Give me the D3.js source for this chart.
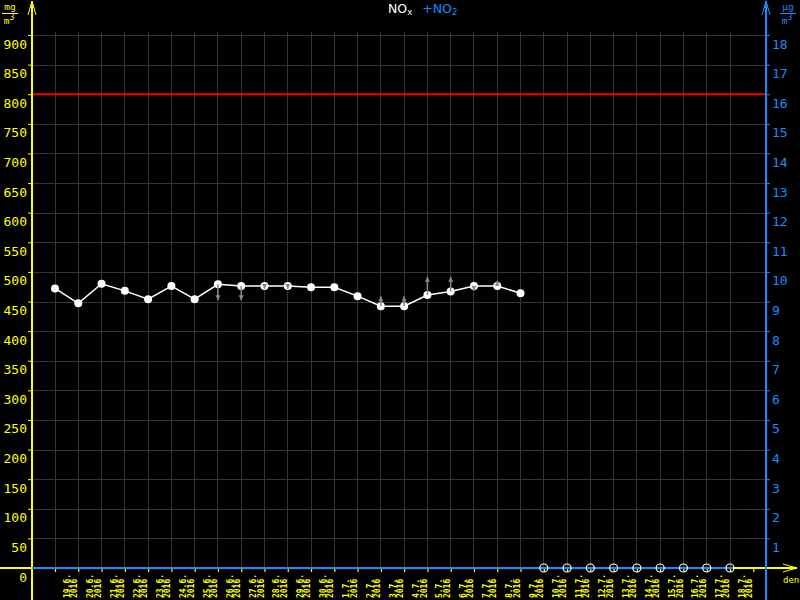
<!DOCTYPE html>
<html>
<head>
<meta charset="utf-8">
<script src="https://cdn.jsdelivr.net/npm/d3@7"></script>
<style>
  html, body { margin: 0; padding: 0; background: #000; }
  svg { display: block; }
</style>
</head>
<body>
<svg id="chart" width="800" height="600"></svg>
<script>
// ---------------- DATA ----------------
const dayLabels = ["19.6.","20.6.","21.6.","22.6.","23.6.","24.6.","25.6.","26.6.","27.6.","28.6.",
                   "29.6.","30.6.","1.7.","2.7.","3.7.","4.7.","5.7.","6.7.","7.7.","8.7.",
                   "9.7.","10.7.","11.7.","12.7.","13.7.","14.7.","15.7.","16.7.","17.7.","18.7."];
const yearLabel = "2016";
// NOx daily values (mg/m3, left axis); null = no data
const noxValues = [472, 447, 480, 468, 454, 476, 454, 479, 476, 476,
                   476, 474, 474, 459, 442, 442, 461, 467, 476, 476,
                   464, null, null, null, null, null, null, null, null, null];
// grey arrow end values (left-axis units); null = no arrow
const arrowEnds = [null, null, null, null, null, null, null, 452, 452, 471,
                   471, null, null, null, 459, 459, 492, 492, 468, 485,
                   null, null, null, null, null, null, null, null, null, null];
// NO2 daily values (ug/m3, right axis); null = not drawn
const no2Values = [null, null, null, null, null, null, null, null, null, null,
                   null, null, null, null, null, null, null, null, null, null,
                   null, 0, 0, 0, 0, 0, 0, 0, 0, 0];
const leftTicks = [0,50,100,150,200,250,300,350,400,450,500,550,600,650,700,750,800,850,900];
const rightTicks = [1,2,3,4,5,6,7,8,9,10,11,12,13,14,15,16,17,18];
const limitValue = 800;

// ---------------- LAYOUT ----------------
const W = 800, H = 600;
const axL = 32, axR = 766, yTop = 35, yBot = 568;
const yellow = "#ffff00", blue = "#1a8cff", grid = "#353535", grey = "#8a8a8a";
const mono = "'DejaVu Sans Mono', monospace";

const svg = d3.select("#chart");
svg.append("rect").attr("width", W).attr("height", H).attr("fill", "#000");

const x = d3.scaleLinear().domain([0, 29]).range([55, 730]);
const y = d3.scaleLinear().domain([0, 900]).range([yBot, yTop]);
const yR = d3.scaleLinear().domain([0, 18]).range([yBot, yTop]);
const dayIdx = d3.range(dayLabels.length);
const tickIdx = d3.range(dayLabels.length + 1);

// ---------------- GRID ----------------
const g = svg.append("g");
g.selectAll("line.v").data(dayIdx).join("line")
  .attr("x1", d => x(d)).attr("x2", d => x(d))
  .attr("y1", yTop - 3).attr("y2", yBot)
  .attr("stroke", grid).attr("stroke-width", 1).attr("shape-rendering", "crispEdges");
g.selectAll("line.h").data(leftTicks.filter(d => d > 0)).join("line")
  .attr("x1", axL).attr("x2", axR)
  .attr("y1", d => Math.round(y(d)) + 0.5).attr("y2", d => Math.round(y(d)) + 0.5)
  .attr("stroke", grid).attr("stroke-width", 1).attr("shape-rendering", "crispEdges");

// limit line
svg.append("line")
  .attr("x1", axL).attr("x2", axR)
  .attr("y1", y(limitValue)).attr("y2", y(limitValue))
  .attr("stroke", "#ff0000").attr("stroke-width", 2);

// ---------------- AXES ----------------
// x axis baseline (yellow), extended with arrow
svg.append("line").attr("x1", 0).attr("x2", W - 3)
  .attr("y1", y(0)).attr("y2", y(0))
  .attr("stroke", yellow).attr("stroke-width", 2);
svg.append("path")
  .attr("d", `M${W-17},${y(0)-4} L${W-3},${y(0)} L${W-17},${y(0)+4}`)
  .attr("fill", "none").attr("stroke", yellow).attr("stroke-width", 1);
svg.append("path")
  .attr("d", `M${W-10},${y(0)-2} L${W-3},${y(0)} L${W-10},${y(0)+2} Z`)
  .attr("fill", yellow);
svg.append("text").attr("x", W - 17).attr("y", y(0) + 15)
  .attr("fill", yellow).attr("font-family", mono).attr("font-size", 9).text("den");

// bottom ticks
const xAxis = d3.axisBottom(x).tickValues(tickIdx).tickSize(4).tickFormat("");
const gx = svg.append("g").attr("transform", `translate(0,${y(0)})`).call(xAxis);
gx.select(".domain").remove();
gx.selectAll("line").attr("stroke", yellow).attr("stroke-width", 1.2);

// date labels (rotated)
const lab = svg.append("g");
dayIdx.forEach(i => {
  const t = lab.append("g").attr("transform", `translate(${x(i)},${H - 2}) rotate(-90)`);
  [dayLabels[i], yearLabel].forEach((s, k) => {
    t.append("text").attr("x", 0).attr("y", 15 + k * 7.4)
      .attr("fill", yellow).attr("font-family", mono).attr("font-size", 9.2)
      .attr("font-weight", "bold")
      .attr("textLength", s.length * 4.8).attr("lengthAdjust", "spacingAndGlyphs")
      .text(s);
  });
});

// left axis
const gl = svg.append("g").attr("transform", `translate(${axL},0)`)
  .call(d3.axisLeft(y).tickValues(leftTicks).tickSize(4).tickPadding(1));
gl.select(".domain").remove();
gl.selectAll("line").attr("stroke", yellow);
gl.selectAll("text").attr("fill", yellow).attr("font-family", mono).attr("font-size", 13).attr("dy", "1em");
svg.append("line").attr("x1", axL).attr("x2", axL).attr("y1", 1).attr("y2", H)
  .attr("stroke", yellow).attr("stroke-width", 2);

// right axis
const gr = svg.append("g").attr("transform", `translate(${axR},0)`)
  .call(d3.axisRight(yR).tickValues(rightTicks).tickSize(4).tickPadding(2));
gr.select(".domain").remove();
gr.selectAll("line").attr("stroke", blue);
gr.selectAll("text").attr("fill", blue).attr("font-family", mono).attr("font-size", 13).attr("dy", "1em");
svg.append("line").attr("x1", axR).attr("x2", axR).attr("y1", 1).attr("y2", H)
  .attr("stroke", blue).attr("stroke-width", 2);

// axis top arrows
[[axL, yellow], [axR, blue]].forEach(([ax, c]) => {
  svg.append("path").attr("d", `M${ax-4},15 L${ax},1 L${ax+4},15`)
    .attr("fill", "none").attr("stroke", c).attr("stroke-width", 1);
  svg.append("path").attr("d", `M${ax-2},8 L${ax},1 L${ax+2},8 Z`).attr("fill", c);
});

// unit labels
function unit(cx, top, c) {
  svg.append("text").attr("x", cx).attr("y", 10).attr("text-anchor", "middle")
    .attr("fill", c).attr("font-family", mono).attr("font-size", 9.5).text(top);
  svg.append("line").attr("x1", cx - 8).attr("x2", cx + 8).attr("y1", 13.5).attr("y2", 13.5)
    .attr("stroke", c).attr("stroke-width", 1);
  const t = svg.append("text").attr("x", cx - 1).attr("y", 24).attr("text-anchor", "middle")
    .attr("fill", c).attr("font-family", mono).attr("font-size", 9.5);
  t.append("tspan").text("m");
  t.append("tspan").attr("dy", -4).attr("font-size", 8).text("3");
}
unit(10, "mg", yellow);
unit(788, "µg", blue);

// title
const title = svg.append("text").attr("x", 388).attr("y", 13)
  .attr("font-family", "'DejaVu Sans', sans-serif").attr("font-size", 12.5);
title.append("tspan").attr("fill", "#ffffff").text("NO");
title.append("tspan").attr("fill", "#ffffff").attr("font-size", 8.5).attr("dy", 2).text("x");
title.append("tspan").attr("fill", blue).attr("dx", 10).attr("dy", -2).text("+NO");
title.append("tspan").attr("fill", blue).attr("font-size", 8.5).attr("dy", 2).text("2");

// ---------------- SERIES ----------------
// NO2 zero line (blue)
svg.append("line").attr("x1", axL).attr("x2", x(29) + 3)
  .attr("y1", yR(0)).attr("y2", yR(0)).attr("stroke", blue).attr("stroke-width", 2);

// NOx line
const noxData = noxValues.map((v, i) => ({ i, v })).filter(d => d.v != null);
svg.append("path").datum(noxData)
  .attr("d", d3.line().x(d => x(d.i)).y(d => y(d.v)))
  .attr("fill", "none").attr("stroke", "#ffffff").attr("stroke-width", 1.5);
svg.selectAll("circle.nox").data(noxData).join("circle")
  .attr("cx", d => x(d.i)).attr("cy", d => y(d.v)).attr("r", 4)
  .attr("fill", "#ffffff");

// grey arrows
const arr = noxValues.map((v, i) => ({ i, v, e: arrowEnds[i] })).filter(d => d.e != null && d.v != null);
arr.forEach(d => {
  const cx = x(d.i), y0 = y(d.v), y1 = y(d.e);
  const dir = y1 > y0 ? 1 : -1;
  svg.append("line").attr("x1", cx).attr("x2", cx).attr("y1", y0).attr("y2", y1)
    .attr("stroke", grey).attr("stroke-width", 1.5);
  svg.append("path")
    .attr("d", `M${cx},${y1} L${cx-2.5},${y1 - dir*5} L${cx+2.5},${y1 - dir*5} Z`)
    .attr("fill", grey);
});

// NO2 hollow points
const no2Data = no2Values.map((v, i) => ({ i, v })).filter(d => d.v != null);
svg.selectAll("circle.no2").data(no2Data).join("circle")
  .attr("cx", d => x(d.i)).attr("cy", d => yR(d.v)).attr("r", 4)
  .attr("fill", "none").attr("stroke", "#ffffff").attr("stroke-width", 1.2);
</script>
</body>
</html>
